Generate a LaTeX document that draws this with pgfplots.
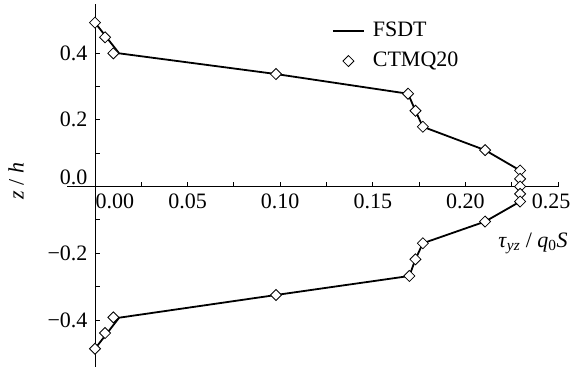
\documentclass[border=0pt]{standalone}
\usepackage{fontspec}
\setmainfont{Liberation Serif}
\usepackage{pgfplots}
\pgfplotsset{compat=1.18}
\pgfplotsset{
  lineleg/.style={legend image code/.code={\draw[##1] (0bp,0bp) -- (31bp,0bp);}},
  markleg/.style={legend image code/.code={\draw[##1] plot coordinates {(15.5bp,0bp)};}},
}
\begin{document}
\fontsize{22bp}{26bp}\selectfont
\begin{tikzpicture}
\begin{axis}[
  x=1852bp, y=333.75bp,
  axis lines=middle,
  axis line style={-, line width=1bp},
  xmin=-0.015, xmax=0.25, ymin=-0.54, ymax=0.546,
  xtick={0.05,0.10,0.15,0.20,0.25},
  xticklabels={0.05,0.10,0.15,0.20,\hspace*{-14bp}0.25},
  minor xtick={0.025,0.075,0.125,0.175,0.225},
  ytick={-0.4,-0.2,0.2,0.4},
  yticklabels={−0.4,−0.2,0.2,0.4},
  minor ytick={-0.3,-0.1,0.1,0.3},
  extra x ticks={0}, extra x tick labels={0.00},
  extra x tick style={xticklabel style={anchor=north west, xshift=-7bp}},
  extra y ticks={0}, extra y tick labels={0.0},
  extra y tick style={yticklabel style={anchor=east, yshift=9bp}},
  hide obscured x ticks=false, hide obscured y ticks=false,
  /pgf/number format/assume math mode=true,
  tick align=inside,
  major tick length=5bp, minor tick length=5bp,
  tick style={line width=1bp, black},
  xticklabel style={anchor=north},
  yticklabel style={anchor=east},
  ticklabel style={font=\fontsize{22bp}{26bp}\selectfont},
  xlabel={\textit{τ}\textsubscript{\textit{yz}} / \textit{q}\textsubscript{0}\textit{S}},
  ylabel={\textit{z} / \textit{h}},
  every axis x label/.style={at={(axis description cs:0.949,0.341)}, anchor=center, font=\fontsize{22bp}{26bp}\selectfont},
  every axis y label/.style={at={(axis description cs:-0.104,0.512)}, anchor=center, rotate=90, font=\fontsize{22bp}{26bp}\selectfont},
  legend style={at={(axis description cs:0.533,0.962)}, anchor=north west, draw=none, fill=none,
    font=\fontsize{22bp}{26bp}\selectfont, row sep=8bp, column sep=6bp},
  legend cell align=left,
  clip=false,
]
\addplot[black, line width=1.8bp, lineleg] coordinates {
(0,0.491) (0.013,0.399) (0.0977,0.337) (0.169,0.278) (0.173,0.227) (0.177,0.179)
(0.2106,0.109) (0.2295,0.048) (0.2295,-0.045) (0.2106,-0.105) (0.177,-0.170)
(0.173,-0.218) (0.1697,-0.268) (0.0977,-0.325) (0.013,-0.393) (0,-0.486)
};
\addlegendentry{FSDT}
\addplot[only marks, mark=square*, mark size=3.9bp,
  mark options={rotate=45, fill=white, draw=black, line width=0.8bp}, markleg] coordinates {
(0,0.491) (0.0054,0.447) (0.0099,0.399) (0.0977,0.337) (0.169,0.278) (0.173,0.227)
(0.177,0.179) (0.2106,0.109) (0.2295,0.048) (0.2295,0.023) (0.2295,0.0)
(0.2295,-0.022) (0.2295,-0.045) (0.2106,-0.105) (0.177,-0.170) (0.173,-0.218)
(0.1697,-0.268) (0.0977,-0.325) (0.0099,-0.392) (0.0054,-0.439) (0,-0.486)
};
\addlegendentry{CTMQ20}
\coordinate (bbA) at (axis cs:-0.0513,0.5588);
\coordinate (bbB) at (axis cs:0.2586,-0.5408);
\end{axis}
\pgfresetboundingbox
\path (bbA) rectangle (bbB);
\end{tikzpicture}
\end{document}
